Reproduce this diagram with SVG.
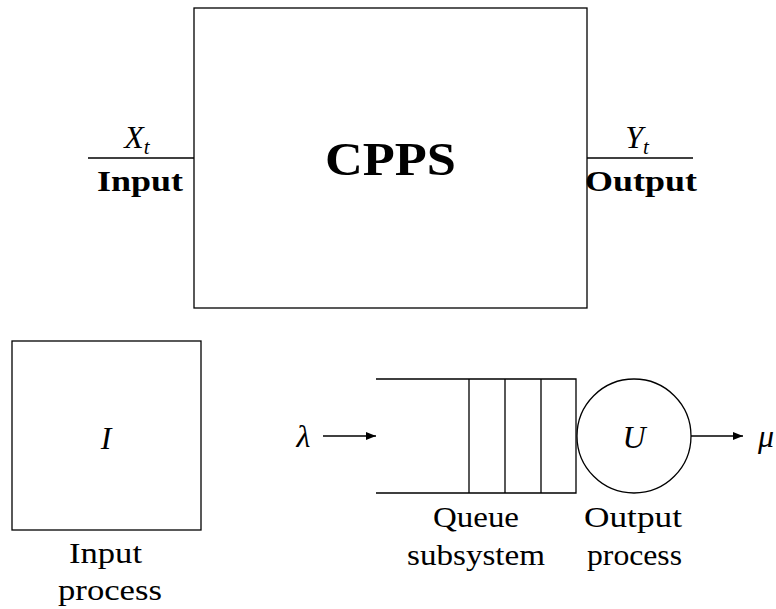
<svg xmlns="http://www.w3.org/2000/svg" width="776" height="609" viewBox="0 0 776 609">
<style>
.ln{stroke:#000;stroke-width:1.3;fill:none}
text{font-family:'Liberation Serif','DejaVu Serif','Times New Roman',serif;font-size:30px;fill:#000;text-anchor:middle}
.b{font-weight:bold}
.i{font-style:italic}
.big{font-size:46px}
.sub{font-size:21px}
.m{font-size:32px}
</style>
<defs>
<marker id="ah" viewBox="0 0 10 10" refX="10" refY="5" markerWidth="10" markerHeight="10" markerUnits="userSpaceOnUse" orient="auto">
<path d="M0,1 L10,5 L0,9 Z" fill="#000"/>
</marker>
</defs>
<rect width="776" height="609" fill="#fff"/>
<g id="cpps">
<rect class="ln" x="194" y="8" width="393" height="300"/>
<text class="b big" x="390.5" y="175" textLength="131" lengthAdjust="spacingAndGlyphs">CPPS</text>
</g>
<g id="input-label">
<text class="i m" x="137" y="148">X<tspan class="sub" dy="6">t</tspan></text>
<text class="b" x="140" y="191" textLength="86" lengthAdjust="spacingAndGlyphs">Input</text>
</g>
<g id="output-label">
<text class="i m" x="637" y="148">Y<tspan class="sub" dy="6">t</tspan></text>
<text class="b" x="641" y="191" textLength="112" lengthAdjust="spacingAndGlyphs">Output</text>
</g>
<g id="input-process">
<rect class="ln" x="12" y="341" width="189" height="189"/>
<text class="i m" x="106" y="449">I</text>
<text x="105.5" y="563" textLength="73" lengthAdjust="spacingAndGlyphs">Input</text>
<text x="110" y="600" textLength="104" lengthAdjust="spacingAndGlyphs">process</text>
</g>
<g id="queue">
<path class="ln" d="M376,379 H576 V493 H376 M469,379 V493 M505,379 V493 M541,379 V493"/>
<text x="476" y="527" textLength="86" lengthAdjust="spacingAndGlyphs">Queue</text>
<text x="476" y="565" textLength="138" lengthAdjust="spacingAndGlyphs">subsystem</text>
</g>
<g id="server">
<circle class="ln" cx="634" cy="436" r="57"/>
<text class="i m" x="634" y="448">U</text>
<text x="633" y="527" textLength="98" lengthAdjust="spacingAndGlyphs">Output</text>
<text x="634.5" y="565" textLength="95" lengthAdjust="spacingAndGlyphs">process</text>
</g>
<g id="lambda">
<text class="i m" x="303.5" y="447">λ</text>
</g>
<g id="mu">
<text class="i m" x="766" y="447">μ</text>
</g>
<g id="connectors">
<line class="ln" x1="88" y1="158" x2="194" y2="158"/>
<line class="ln" x1="587" y1="158" x2="693" y2="158"/>
<line class="ln" x1="323" y1="436" x2="376" y2="436" marker-end="url(#ah)"/>
<line class="ln" x1="691" y1="436" x2="743" y2="436" marker-end="url(#ah)"/>
</g>
</svg>
